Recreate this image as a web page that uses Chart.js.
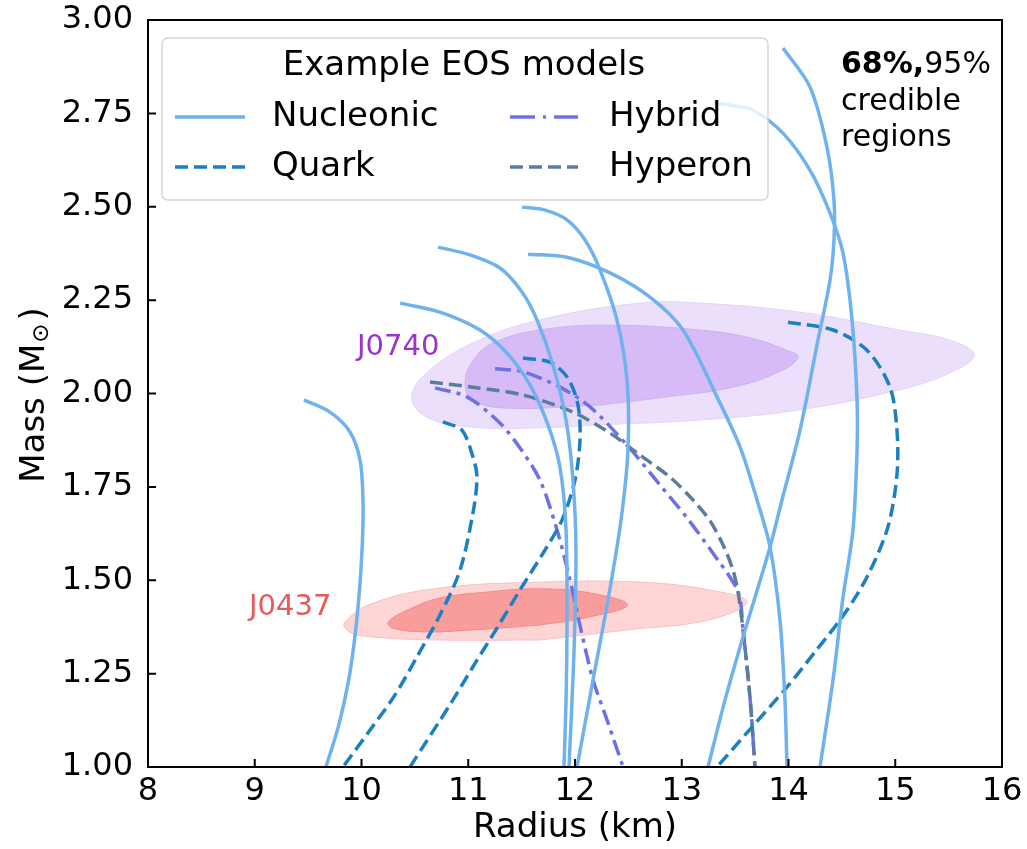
<!DOCTYPE html>
<html><head><meta charset="utf-8">
<script src="https://cdn.jsdelivr.net/npm/chart.js@4.4.1/dist/chart.umd.min.js"></script>
<style>html,body{margin:0;padding:0;background:#fff}canvas{display:block}</style>
</head><body>
<canvas id="c" width="1027" height="849"></canvas>
<script>
// ---- axis ticks ----
const radiusTicks = [8, 9, 10, 11, 12, 13, 14, 15, 16];
const massTicks = [1.00, 1.25, 1.50, 1.75, 2.00, 2.25, 2.50, 2.75, 3.00];

// ---- Nucleonic EOS curves [R (km), M (Msun)] ----
const nucleonic1 = [[9.461,1.983],[9.705,1.950],[9.892,1.897],[9.986,1.822],[10.014,1.715],[10.005,1.581],[9.962,1.412],[9.890,1.250],[9.785,1.110],[9.667,1.0]];
const nucleonic2 = [[10.361,2.242],[10.735,2.218],[11.110,2.170],[11.363,2.108],[11.578,2.023],[11.747,1.916],[11.859,1.803],[11.916,1.635],[11.925,1.394],[11.916,1.179],[11.897,1.0]];
const nucleonic3 = [[10.717,2.392],[11.016,2.371],[11.297,2.336],[11.503,2.272],[11.644,2.197],[11.794,2.076],[11.916,1.929],[11.981,1.768],[12.009,1.581],[11.991,1.313],[11.944,1.0]];
const nucleonic4 = [[11.503,2.499],[11.719,2.491],[11.925,2.465],[12.094,2.411],[12.234,2.331],[12.393,2.197],[12.487,2.036],[12.496,1.849],[12.431,1.661],[12.309,1.447],[12.169,1.233],[12.019,1.0]];
const nucleonic5 = [[11.560,2.373],[11.925,2.365],[12.328,2.323],[12.703,2.258],[13.012,2.170],[13.330,1.991],[13.546,1.857],[13.705,1.715],[13.827,1.589],[13.920,1.394],[13.967,1.179],[13.986,1.0]];
const nucleonic6 = [[13.948,2.925],[14.201,2.821],[14.360,2.660],[14.426,2.518],[14.426,2.411],[14.389,2.304],[14.276,2.143],[14.108,1.902],[13.939,1.715],[13.827,1.589],[13.574,1.348],[13.405,1.179],[13.246,1.0]];
const nucleonic7 = [[13.293,2.778],[13.499,2.770],[13.667,2.759],[13.948,2.697],[14.201,2.598],[14.389,2.483],[14.511,2.376],[14.595,2.197],[14.642,1.983],[14.642,1.849],[14.604,1.635],[14.511,1.455],[14.417,1.233],[14.295,1.0]];

// ---- Quark EOS curves ----
const quark1 = [[10.763,1.924],[10.941,1.902],[11.044,1.830],[11.082,1.776],[11.044,1.680],[10.923,1.527],[10.735,1.407],[10.529,1.300],[10.314,1.193],[10.080,1.099],[9.827,1.0]];
const quark2 = [[11.513,2.095],[11.766,2.084],[11.934,2.041],[12.028,1.969],[12.047,1.876],[12.0,1.768],[11.878,1.661],[11.719,1.581],[11.485,1.474],[11.269,1.372],[11.054,1.273],[10.838,1.171],[10.454,1.0]];
const quark3 = [[13.995,2.191],[14.417,2.170],[14.735,2.116],[14.951,2.017],[15.016,1.902],[15.016,1.782],[14.932,1.643],[14.745,1.514],[14.529,1.412],[14.248,1.308],[13.986,1.214],[13.658,1.107],[13.330,1.0]];

// ---- Hybrid EOS curves ----
const hybrid1 = [[11.251,2.066],[11.513,2.058],[11.859,2.017],[12.141,1.964],[12.487,1.862],[12.796,1.755],[13.049,1.667],[13.283,1.576],[13.527,1.469],[13.574,1.367],[13.639,1.187],[13.686,1.0]];
const hybrid2 = [[10.689,2.015],[10.988,1.991],[11.297,1.921],[11.485,1.854],[11.672,1.768],[11.831,1.635],[11.953,1.501],[12.056,1.367],[12.169,1.233],[12.300,1.126],[12.450,1.0]];

// ---- Hyperon EOS curve ----
const hyperon1 = [[10.642,2.031],[11.044,2.017],[11.513,1.996],[11.981,1.950],[12.328,1.894],[12.609,1.835],[12.890,1.776],[13.096,1.718],[13.265,1.659],[13.396,1.589],[13.480,1.527],[13.527,1.469],[13.574,1.367],[13.639,1.187],[13.686,1.0]];

// ---- credible region outlines ----
const j0740_95 = [[12.23,1.916],[11.67,1.908],[11.04,1.910],[10.61,1.937],[10.47,1.990],[10.61,2.055],[11.04,2.135],[11.67,2.197],[12.61,2.242],[13.17,2.242],[14.10,2.218],[15.04,2.170],[15.51,2.143],[15.74,2.103],[15.51,2.055],[15.04,2.010],[14.10,1.956],[13.17,1.929],[12.23,1.916]];
const j0740_68 = [[12.23,1.969],[11.36,1.961],[11.04,1.983],[10.97,2.030],[11.05,2.090],[11.23,2.135],[11.67,2.170],[12.30,2.183],[13.17,2.170],[13.64,2.149],[13.98,2.116],[14.09,2.098],[13.95,2.063],[13.48,2.017],[12.86,1.991],[12.23,1.969]];
const j0437_95 = [[11.67,1.340],[10.73,1.340],[10.11,1.348],[9.89,1.361],[9.84,1.386],[10.11,1.439],[10.73,1.479],[11.67,1.495],[12.61,1.495],[13.26,1.474],[13.61,1.442],[13.26,1.394],[12.49,1.367],[11.67,1.340]];
const j0437_68 = [[11.67,1.380],[11.04,1.367],[10.57,1.362],[10.29,1.372],[10.25,1.388],[10.43,1.420],[10.73,1.452],[11.20,1.469],[11.67,1.477],[12.14,1.466],[12.49,1.434],[12.14,1.402],[11.67,1.380]];

const legendEntries = ['Nucleonic', 'Quark', 'Hybrid', 'Hyperon'];

const FONT = 'DejaVu Sans';
const C_NUC = '#6fb2ed', C_QRK = '#1b7fc0', C_HYB = '#6e70e6', C_HYP = '#5a7d9f';
const DASH_Q = [13, 6], DASH_Y = [13, 6], DASH_H = [16, 6, 4, 6];
const LW = 3.5;

const toXY = a => a.map(p => ({x: p[0], y: p[1]}));
const curve = (d, color, dash) => ({data: toXY(d), showLine: true, borderColor: color, borderWidth: LW, borderDash: dash || [], tension: 0.3, pointRadius: 0, fill: false, order: 0});
const region = (d, fillC, lineC, ord) => ({data: toXY(d), showLine: true, borderColor: lineC, backgroundColor: fillC, borderWidth: 1, tension: 0.4, pointRadius: 0, fill: 'shape', order: ord});

const datasets = [
  region(j0740_95, '#ecdffb', '#e3d3f9', 40),
  region(j0740_68, '#d7bbf7', '#cfb0f4', 30),
  region(j0437_95, '#fdd5d5', '#f9c2c2', 40),
  region(j0437_68, '#f99c9c', '#f28a8a', 30),
  curve(nucleonic1, C_NUC), curve(nucleonic2, C_NUC), curve(nucleonic3, C_NUC), curve(nucleonic4, C_NUC),
  curve(nucleonic5, C_NUC), curve(nucleonic6, C_NUC), curve(nucleonic7, C_NUC),
  curve(quark1, C_QRK, DASH_Q), curve(quark2, C_QRK, DASH_Q), curve(quark3, C_QRK, DASH_Q),
  curve(hyperon1, C_HYP, DASH_Y),
  curve(hybrid1, C_HYB, DASH_H), curve(hybrid2, C_HYB, DASH_H)
];

const deco = {
  id: 'deco',
  afterDatasetsDraw(chart) {
    const ctx = chart.ctx;
    ctx.save();
    ctx.textBaseline = 'middle';
    ctx.textAlign = 'left';
    // pulsar labels
    ctx.font = `29px "${FONT}"`;
    ctx.fillStyle = '#9a32cd';
    ctx.fillText('J0740', 357, 347);
    ctx.fillStyle = '#e65a5a';
    ctx.fillText('J0437', 249, 607);
    // credible-region note
    ctx.fillStyle = '#000';
    ctx.font = `bold 30px "${FONT}"`;
    ctx.fillText('68%,', 841, 65);
    const w = ctx.measureText('68%,').width;
    ctx.font = `30px "${FONT}"`;
    ctx.fillText('95%', 841 + w, 65);
    ctx.fillText('credible', 841, 102);
    ctx.fillText('regions', 841, 138);
    // legend box
    const bx = 162, by = 38, bw = 606, bh = 162, r = 6;
    ctx.beginPath();
    ctx.moveTo(bx + r, by); ctx.lineTo(bx + bw - r, by); ctx.arcTo(bx + bw, by, bx + bw, by + r, r);
    ctx.lineTo(bx + bw, by + bh - r); ctx.arcTo(bx + bw, by + bh, bx + bw - r, by + bh, r);
    ctx.lineTo(bx + r, by + bh); ctx.arcTo(bx, by + bh, bx, by + bh - r, r);
    ctx.lineTo(bx, by + r); ctx.arcTo(bx, by, bx + r, by, r); ctx.closePath();
    ctx.fillStyle = 'rgba(255,255,255,0.8)';
    ctx.fill();
    ctx.strokeStyle = '#d6d6d6'; ctx.lineWidth = 1.5; ctx.stroke();
    ctx.fillStyle = '#000';
    ctx.font = `34px "${FONT}"`;
    ctx.textAlign = 'center';
    ctx.fillText('Example EOS models', 464, 66);
    ctx.textAlign = 'left';
    const items = [
      {t: legendEntries[0], c: C_NUC, d: [], x0: 175, x1: 245, tx: 272, y: 117},
      {t: legendEntries[1], c: C_QRK, d: DASH_Q, x0: 175, x1: 245, tx: 272, y: 167},
      {t: legendEntries[2], c: C_HYB, d: [25, 8, 3, 8], x0: 510, x1: 578, tx: 609, y: 117},
      {t: legendEntries[3], c: C_HYP, d: DASH_Y, x0: 510, x1: 578, tx: 609, y: 167}
    ];
    for (const it of items) {
      ctx.beginPath();
      ctx.setLineDash(it.d);
      ctx.strokeStyle = it.c; ctx.lineWidth = LW;
      ctx.moveTo(it.x0, it.y); ctx.lineTo(it.x1, it.y); ctx.stroke();
      ctx.setLineDash([]);
      ctx.fillStyle = '#000';
      ctx.fillText(it.t, it.tx, it.y);
    }
    ctx.restore();
  },
  afterDraw(chart) {
    const ctx = chart.ctx, a = chart.chartArea;
    const xs = chart.scales.x, ys = chart.scales.y;
    ctx.save();
    ctx.strokeStyle = '#000';
    ctx.lineWidth = 2;
    ctx.strokeRect(a.left, a.top, a.right - a.left, a.bottom - a.top);
    ctx.beginPath();
    for (const v of radiusTicks) { const p = xs.getPixelForValue(v); ctx.moveTo(p, a.bottom); ctx.lineTo(p, a.bottom - 8); }
    for (const v of massTicks) { const p = ys.getPixelForValue(v); ctx.moveTo(a.left, p); ctx.lineTo(a.left + 8, p); }
    ctx.stroke();
    // axis titles
    ctx.fillStyle = '#000';
    ctx.textBaseline = 'middle';
    ctx.textAlign = 'center';
    ctx.font = `34px "${FONT}"`;
    ctx.fillText('Radius (km)', (a.left + a.right) / 2, 828);
    ctx.translate(35, 395);
    ctx.rotate(-Math.PI / 2);
    const big = `34px "${FONT}"`, small = `23px "${FONT}"`;
    ctx.font = big; const w1 = ctx.measureText('Mass (M').width, w3 = ctx.measureText(')').width;
    ctx.font = small; const w2 = ctx.measureText('\u2299').width + 4;
    let x = -(w1 + w2 + w3) / 2;
    ctx.textAlign = 'left';
    ctx.font = big; ctx.fillText('Mass (M', x, 0); x += w1;
    ctx.font = small; ctx.fillText('\u2299', x + 1, 7); x += w2;
    ctx.font = big; ctx.fillText(')', x, 0);
    ctx.restore();
  }
};

new Chart(document.getElementById('c'), {
  type: 'scatter',
  data: {datasets},
  options: {
    responsive: false,
    animation: false,
    devicePixelRatio: 1,
    layout: {padding: {left: 0, right: 25, top: 20, bottom: 0}},
    plugins: {legend: {display: false}, tooltip: {enabled: false}},
    scales: {
      x: {
        type: 'linear', min: 8, max: 16,
        afterBuildTicks: s => { s.ticks = radiusTicks.map(v => ({value: v})); },
        afterFit: s => { s.height = 82; s.paddingLeft = 0; s.paddingRight = 0; },
        grid: {display: false, drawTicks: false},
        border: {display: false},
        ticks: {color: '#000', font: {family: FONT, size: 32}, padding: 5, maxRotation: 0, autoSkip: false}
      },
      y: {
        type: 'linear', min: 1, max: 3,
        afterBuildTicks: s => { s.ticks = massTicks.map(v => ({value: v})); },
        afterFit: s => { s.width = 148; s.paddingTop = 0; s.paddingBottom = 0; },
        grid: {display: false, drawTicks: false},
        border: {display: false},
        ticks: {color: '#000', font: {family: FONT, size: 32}, padding: 15, autoSkip: false, callback: v => Number(v).toFixed(2)}
      }
    }
  },
  plugins: [deco]
});
</script>
</body></html>
